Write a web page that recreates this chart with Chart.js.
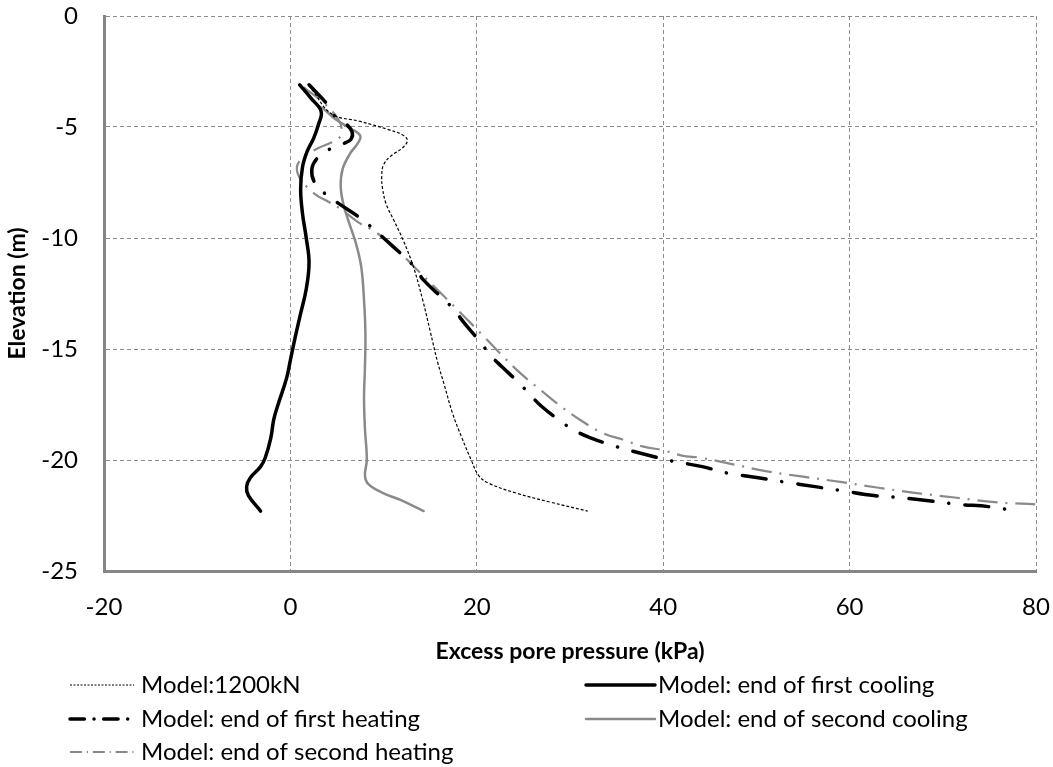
<!DOCTYPE html>
<html>
<head>
<meta charset="utf-8">
<script src="https://cdn.jsdelivr.net/npm/chart.js@4.4.1/dist/chart.umd.min.js"></script>
<style>
  html, body { margin: 0; padding: 0; background: #ffffff; }
  #wrap { position: relative; width: 1053px; height: 767px; }
</style>
</head>
<body>
<div id="wrap"><canvas id="chart" width="1053" height="767"></canvas></div>
<script>
// Excess pore pressure (kPa) against elevation (m) for each model stage
const xTicks = [-20, 0, 20, 40, 60, 80];
const yTicks = [-25, -20, -15, -10, -5, 0];

const seriesNames = [
  "Model:1200kN",
  "Model: end of first cooling",
  "Model: end of first heating",
  "Model: end of second cooling",
  "Model: end of second heating"
];

const pressure1200 = [2.3, 4.4, 7.5, 10.4, 12.0, 12.55, 12.0, 10.8, 10.0, 9.8, 9.9, 10.3, 11.1, 12.1, 13.2, 14.2, 15.0, 15.8, 16.5, 17.4, 18.4, 19.4, 20.2, 21.3, 24.3, 27.9, 31.9];
const elev1200     = [-3.3, -4.4, -4.75, -5.1, -5.35, -5.6, -5.95, -6.3, -6.7, -7.2, -7.8, -8.5, -9.2, -10.1, -11.3, -12.8, -14.2, -15.6, -16.6, -17.9, -19.0, -20.0, -20.7, -21.05, -21.5, -21.9, -22.3];

const pressureCool1 = [1.0, 2.2, 3.3, 3.0, 2.5, 1.8, 1.3, 1.1, 1.3, 1.7, 2.0, 1.7, 1.1, 0.5, 0.0, -0.4, -1.4, -1.8, -2.1, -2.7, -3.2, -4.3, -4.7, -4.5, -3.2];
const elevCool1     = [-3.1, -3.7, -4.3, -4.9, -5.5, -6.1, -6.8, -7.8, -8.9, -10.0, -11.1, -12.3, -13.4, -14.5, -15.5, -16.3, -17.6, -18.2, -19.0, -19.9, -20.3, -20.8, -21.2, -21.6, -22.3];

const pressureHeat1 = [2.0, 3.9, 4.5, 5.8, 6.6, 6.5, 5.7, 4.2, 2.9, 2.3, 2.6, 3.7, 5.2, 7.5, 8.8, 10.0, 12.1, 13.3, 14.3, 16.3, 17.5, 18.6, 20.4, 21.5, 22.7, 24.7, 25.8, 27.0, 29.3, 30.6, 32.2, 35.0, 38.1, 41.0, 44.2, 47.0, 50.2, 53.1, 56.3, 59.4, 62.6, 65.5, 68.7, 71.7, 74.9, 78.0];
const elevHeat1     = [-3.1, -3.95, -4.4, -4.8, -5.2, -5.55, -5.75, -6.0, -6.4, -6.9, -7.5, -8.0, -8.45, -9.1, -9.55, -10.0, -10.8, -11.3, -11.9, -12.7, -13.2, -13.8, -14.7, -15.3, -15.8, -16.6, -17.1, -17.6, -18.35, -18.7, -19.0, -19.4, -19.75, -20.05, -20.3, -20.6, -20.8, -21.0, -21.2, -21.4, -21.6, -21.7, -21.85, -22.0, -22.1, -22.3];

const pressureCool2 = [1.0, 2.9, 3.6, 5.0, 6.6, 7.5, 7.2, 6.4, 5.6, 5.4, 5.7, 6.2, 7.0, 7.6, 7.9, 8.05, 8.0, 7.9, 8.0, 8.2, 8.0, 8.4, 10.0, 11.8, 14.3];
const elevCool2     = [-3.1, -4.0, -4.2, -4.7, -5.1, -5.4, -5.75, -6.2, -6.9, -7.7, -8.5, -9.2, -10.2, -11.3, -12.8, -14.3, -15.8, -17.2, -18.6, -20.0, -20.7, -21.1, -21.5, -21.8, -22.3];

const pressureHeat2 = [1.4, 3.8, 5.2, 5.5, 5.1, 4.1, 3.0, 1.4, 0.7, 1.0, 1.9, 2.9, 3.8, 5.4, 7.3, 8.6, 10.0, 12.1, 13.4, 15.7, 18.8, 20.9, 22.5, 24.7, 27.0, 28.6, 31.1, 33.6, 35.8, 37.9, 39.9, 42.0, 44.0, 47.0, 51.0, 55.0, 59.2, 63.1, 67.4, 71.5, 75.6, 80.0];
const elevHeat2     = [-3.2, -4.0, -4.7, -5.2, -5.55, -5.75, -5.95, -6.35, -6.8, -7.3, -7.75, -8.1, -8.3, -8.7, -9.3, -9.6, -10.0, -10.8, -11.35, -12.3, -13.6, -14.5, -15.2, -16.1, -16.9, -17.45, -18.2, -18.8, -19.1, -19.4, -19.55, -19.8, -19.9, -20.15, -20.5, -20.75, -21.0, -21.25, -21.5, -21.7, -21.9, -22.0];

const FONT = "Lato, 'Open Sans', 'Liberation Sans', sans-serif";
const GRID = '#8c8c8c';
const AXIS = '#868686';

function toPoints(xs, ys) {
  return xs.map((v, i) => ({ x: v, y: ys[i] }));
}

const styles = [
  { color: '#000000', width: 1.2, dash: [3, 2], cap: 'butt' },
  { color: '#000000', width: 3.5, dash: [], cap: 'round' },
  { color: '#000000', width: 3.5, dash: [24, 16, 0.1, 16], cap: 'round' },
  { color: '#8a8a8a', width: 2.5, dash: [], cap: 'round' },
  { color: '#8a8a8a', width: 2.2, dash: [20, 8, 2, 8], cap: 'butt' }
];

const pairs = [
  [pressure1200, elev1200],
  [pressureCool1, elevCool1],
  [pressureHeat1, elevHeat1],
  [pressureCool2, elevCool2],
  [pressureHeat2, elevHeat2]
];

const datasets = pairs.map((p, i) => ({
  label: seriesNames[i],
  data: toPoints(p[0], p[1]),
  showLine: true,
  borderColor: styles[i].color,
  backgroundColor: styles[i].color,
  borderWidth: styles[i].width,
  borderDash: styles[i].dash,
  borderCapStyle: styles[i].cap,
  borderJoinStyle: 'round',
  pointRadius: 0,
  pointHoverRadius: 0,
  tension: 0.4,
  fill: false
}));

// Two-column legend drawn under the axis title
const legendLayout = [
  { col: 0, row: 0 }, { col: 1, row: 0 },
  { col: 0, row: 1 }, { col: 1, row: 1 },
  { col: 0, row: 2 }
];
const legendCols = [{ x0: 70, x1: 134, tx: 141 }, { x0: 586, x1: 655, tx: 658 }];
const legendRows = [685, 719, 752];

const bottomLegend = {
  id: 'bottomLegend',
  afterDraw(chart) {
    const ctx = chart.ctx;
    ctx.save();
    chart.data.datasets.forEach((ds, i) => {
      const pos = legendLayout[i];
      const c = legendCols[pos.col];
      const y = legendRows[pos.row];
      ctx.beginPath();
      ctx.lineWidth = ds.borderWidth;
      ctx.strokeStyle = ds.borderColor;
      ctx.lineCap = ds.borderCapStyle;
      const d = ds.borderDash.length ? ds.borderDash.map(v => v * 0.6) : [];
      ctx.setLineDash(i === 0 ? [2, 1.5] : d);
      ctx.moveTo(c.x0, y);
      ctx.lineTo(c.x1, y);
      ctx.stroke();
      ctx.setLineDash([]);
      ctx.fillStyle = '#000000';
      ctx.font = "24px " + FONT;
      ctx.textAlign = 'left';
      ctx.textBaseline = 'middle';
      ctx.fillText(ds.label, c.tx, y);
    });
    ctx.restore();
  }
};

new Chart(document.getElementById('chart'), {
  type: 'scatter',
  data: { datasets },
  plugins: [bottomLegend],
  options: {
    responsive: false,
    animation: false,
    devicePixelRatio: 1,
    layout: { padding: { left: 0, right: 17, top: 16, bottom: 100 } },
    plugins: {
      legend: { display: false },
      tooltip: { enabled: false }
    },
    scales: {
      x: {
        type: 'linear',
        min: xTicks[0],
        max: xTicks[xTicks.length - 1],
        afterBuildTicks(scale) { scale.ticks = xTicks.map(v => ({ value: v })); },
        afterFit(scale) {
          scale.height = 96;
          scale.paddingLeft = 0;
          scale.paddingRight = 0;
        },
        grid: { color: GRID, lineWidth: 1, drawTicks: false },
        border: { display: true, color: AXIS, width: 3, dash: [4, 3] },
        ticks: { color: '#000000', padding: 22, font: { family: FONT, size: 24 } },
        title: {
          display: true,
          text: 'Excess pore pressure (kPa)',
          color: '#000000',
          font: { family: FONT, size: 23, weight: 'bold' },
          padding: { top: 0, bottom: 2 }
        }
      },
      y: {
        type: 'linear',
        min: yTicks[0],
        max: yTicks[yTicks.length - 1],
        afterBuildTicks(scale) { scale.ticks = yTicks.map(v => ({ value: v })); },
        afterFit(scale) {
          scale.width = 104;
          scale.paddingTop = 0;
          scale.paddingBottom = 0;
        },
        grid: { color: GRID, lineWidth: 1, drawTicks: false },
        border: { display: true, color: AXIS, width: 3, dash: [4, 3] },
        ticks: { color: '#000000', padding: 26, font: { family: FONT, size: 24 } },
        title: {
          display: true,
          text: 'Elevation (m)',
          color: '#000000',
          font: { family: FONT, size: 23, weight: 'bold' },
          padding: { top: 4, bottom: 0 }
        }
      }
    }
  }
});
</script>
</body>
</html>
